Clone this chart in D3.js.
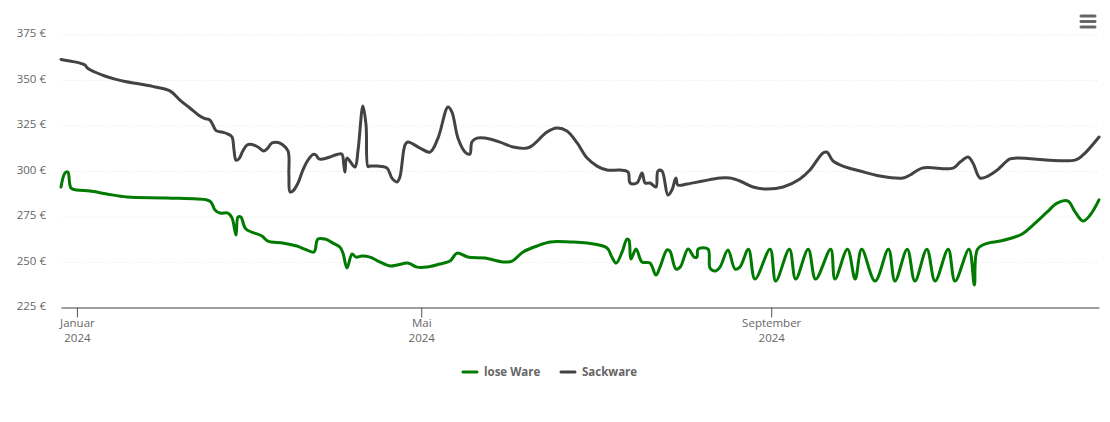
<!DOCTYPE html>
<html>
<head>
<meta charset="utf-8">
<script src="https://cdn.jsdelivr.net/npm/d3@7"></script>
<style>
  html, body { margin: 0; padding: 0; background: #fff; }
  text { font-family: "Open Sans", "Noto Sans", sans-serif; }
</style>
</head>
<body>
<div id="chart"></div>
<script>
// days are counted from 1 Jan 2024
var loseDays = [-5.6,-4.2,-3.2,-2.1,0,4.6,10.5,17.6,31.6,45.7,47.1,48.5,50.3,53.1,54.5,55.9,56.6,57.6,59.4,65,67.1,72.4,77.3,80.8,83.3,84.7,87.2,90,92.4,93.5,94.9,96.7,98.1,100.2,103,105.8,110,112.5,116.3,119.5,123,127.6,131.1,133.6,137.4,143.4,149.7,152.9,156.8,161.7,166.3,173.3,179.3,186.3,188,189.5,191.6,193.3,194,194.7,196.5,198.6,201.4,203.5,204.9,207.4,208.4,210.5,212,214.8,216.9,217.9,218.3,221.8,222.5,224.3,226,228.8,231.3,233,236,238.3,243.6,245.6,250.4,252.6,257,259.6,264.9,266.4,270.8,273.5,275.8,280.5,285.2,287.5,291.8,294.5,298.7,301.6,306.2,308.6,313.5,315.4,316.5,320.2,324.4,332.2,336,341,344.5,348.3,350.8,353.6,356.1,359.2];
var loseValues = [291.2,298.9,299.4,290.7,289.6,289,287.4,285.7,285.2,284.1,283,278.6,276.9,276.9,274.2,264.8,274.7,274.7,268.1,264.3,261.5,260.4,258.8,256.6,255.5,262.6,262.6,260.4,258.2,254.9,246.7,254.4,252.7,253.3,252.7,250.5,247.8,248.3,249.4,247.2,247.2,248.9,250.5,254.9,252.7,252.2,250,250.5,255.5,258.8,261,261,260.4,257.7,252.7,249.4,255.5,262.6,262,251.6,257.1,250,249.4,242.8,247.2,256.6,256,246.1,247.2,257.1,252.7,252.7,257.1,257.1,246.7,245,247.2,256.6,246.1,247.2,257,240.6,257,239.5,257,240.6,257,240.6,257,240.6,257,240.6,257,239.5,257,239.5,257,239.5,257,239.5,257,239.5,257,237.4,257,260.4,261.5,265.4,270.3,277.5,282.4,283.5,277.5,272.5,275.8,284.1];

var sackDays = [-5.6,-2.5,1.1,2.8,3.9,6.3,9.8,13.4,16.9,22.1,27.4,32.7,36.2,39.7,43.2,45,46.7,47.8,48.9,51,53.1,54.5,55.2,55.9,56.9,58.3,59.8,61.5,63.6,65.7,67.1,68.5,70.7,72.4,74.2,74.5,74.9,75.9,77.7,79.4,81.2,83,84,85.1,86.5,88.9,91.4,93.1,93.8,94.2,94.9,97.7,98.8,100.5,101.6,102.3,103,105.5,109,110.7,112.5,113.5,115.3,116.3,120.6,124.1,126.9,130.4,131.8,133.9,136.4,138.1,138.8,140.6,143.4,148.7,153.3,158.2,160.3,165.2,168.7,172.2,175.8,179.3,182.8,186.3,190.9,193.7,194.4,196.8,198.6,199.7,201.4,203.5,204.2,205.6,207.7,209.1,210.5,211.2,214.4,220,226,229.5,233,237.6,242.5,248.2,254.1,257.6,262.2,263.6,265.7,269.2,275.2,282.2,290.3,292.8,297,307.9,310.4,313.2,314.9,317.4,320.2,323.4,327.9,330.4,350.8,353.6,359.2];
var sackValues = [361.3,360.4,359.3,358.2,356.3,354.4,352.2,350.5,349.2,347.8,346.2,344,339,334.6,330.2,328.8,328,325.3,322.2,321.4,320.3,318.7,311.5,306,306.6,311,314.3,314.6,313.2,311,312.6,315.4,315.7,314.3,311,297.8,288.5,289,293.4,300.5,306,309.1,308.8,306.6,306.6,307.7,309.1,309.3,303.3,299.4,307.1,302.2,311.5,335.7,325.3,302.4,302.7,302.7,301.6,296.1,294,296.7,314.3,315.9,312.6,310.4,318.1,335.2,332.4,318.1,310.4,309.3,315.9,318.1,318.1,315.9,313.2,312.6,314.3,321.4,323.6,322,315.4,307.1,302.7,300.5,300.5,299.4,293.4,293.4,298.9,293.4,293.4,291.2,300,300,286.8,289.6,296.1,292.3,292.8,294.5,296.1,296.1,294.5,291.2,290.1,291.2,295.6,300.5,309.9,310.4,305.5,302.7,300,297.2,296.1,297.8,301.6,301.6,304.9,307.7,304.4,296.1,297.2,300.5,306.6,307.1,306,308.8,318.7];

var yTicks = [225, 250, 275, 300, 325, 350, 375];
var monthTicks = [0, 121, 244]; // Januar, Mai, September
var monthLabels = ["Januar", "Mai", "September"];
var seriesNames = ["lose Ware", "Sackware"];
var seriesColors = ["#007a00", "#434343"];

function toDate(d) { return new Date(Date.UTC(2024, 0, 1) + d * 864e5); }

var width = 1110, height = 422;
var svg = d3.select("#chart").append("svg")
    .attr("width", width).attr("height", height)
    .style("display", "block");

var x = d3.scaleUtc().domain([toDate(-5.6), toDate(359.2)]).range([61, 1099]);
var y = d3.scaleLinear().domain([225, 375]).range([307.5, 34.5]);

//===============================================================================
// Axes
//===============================================================================
var yAxis = svg.append("g")
    .attr("transform", "translate(61,0)")
    .call(d3.axisLeft(y).tickValues(yTicks).tickSize(-1038).tickPadding(15)
        .tickFormat(function (d) { return d + " €"; }));
yAxis.select(".domain").remove();
yAxis.selectAll("line")
    .attr("stroke", "#e6e6e6")
    .attr("stroke-dasharray", "1,2");
yAxis.selectAll("text")
    .attr("fill", "#666")
    .attr("dy", "0.2em")
    .style("font-size", "11.5px");

var xAxis = svg.append("g")
    .attr("transform", "translate(0,307.5)")
    .call(d3.axisBottom(x).tickValues(monthTicks.map(toDate)).tickSize(10).tickSizeOuter(0)
        .tickFormat(function () { return ""; }));
xAxis.select(".domain").attr("stroke", "#808080").attr("stroke-width", 1.5);
xAxis.selectAll("line").attr("stroke", "#555");

var labels = xAxis.selectAll(".tick text")
    .attr("fill", "#666")
    .style("font-size", "11.5px")
    .attr("y", 19)
    .attr("dy", 0);
labels.each(function (d, i) {
    var t = d3.select(this);
    t.append("tspan").attr("x", 0).text(monthLabels[i]);
    t.append("tspan").attr("x", 0).attr("dy", 15).text("2024");
});

//===============================================================================
// Lines
//===============================================================================
function drawLine(days, values, color) {
    var line = d3.line()
        .x(function (d) { return x(toDate(d)); })
        .y(function (d, i) { return y(values[i]); })
        .curve(d3.curveCatmullRom.alpha(0.5));
    svg.append("path")
        .datum(days)
        .attr("d", line)
        .attr("fill", "none")
        .attr("stroke", color)
        .attr("stroke-width", 3)
        .attr("stroke-linejoin", "round")
        .attr("stroke-linecap", "round");
}
drawLine(sackDays, sackValues, seriesColors[1]);
drawLine(loseDays, loseValues, seriesColors[0]);

//===============================================================================
// Legend
//===============================================================================
var legendX = [463, 561];
seriesNames.forEach(function (name, i) {
    var g = svg.append("g").attr("transform", "translate(" + legendX[i] + ",372)");
    g.append("line")
        .attr("x1", 0).attr("x2", 14)
        .attr("stroke", seriesColors[i])
        .attr("stroke-width", 3)
        .attr("stroke-linecap", "round");
    g.append("text")
        .attr("x", 21).attr("y", 4)
        .attr("fill", "#666")
        .style("font-size", "11.5px")
        .style("font-weight", "700")
        .text(name);
});

//===============================================================================
// Menu icon
//===============================================================================
[16, 21.5, 27].forEach(function (py) {
    svg.append("line")
        .attr("x1", 1081).attr("x2", 1095)
        .attr("y1", py).attr("y2", py)
        .attr("stroke", "#666")
        .attr("stroke-width", 3)
        .attr("stroke-linecap", "round");
});
</script>
</body>
</html>
